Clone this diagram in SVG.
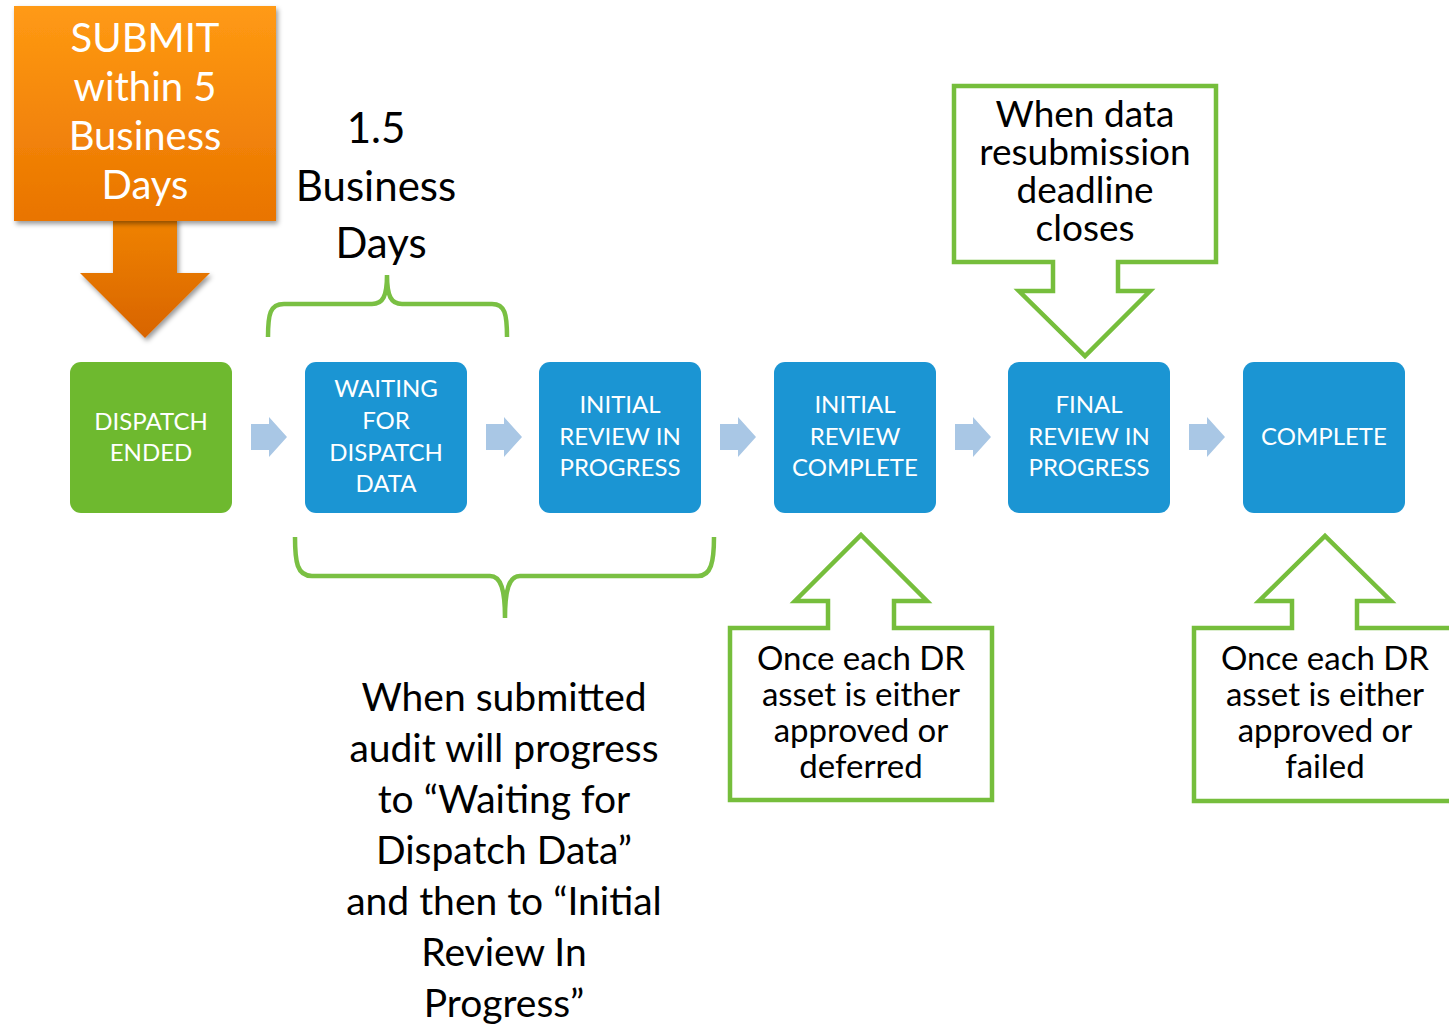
<svg xmlns="http://www.w3.org/2000/svg" width="1449" height="1026" viewBox="0 0 1449 1026">
<defs>
<linearGradient id="og" x1="0" y1="0" x2="0" y2="1">
<stop offset="0" stop-color="#FF9A14"/>
<stop offset="1" stop-color="#E97400"/>
</linearGradient>
<linearGradient id="og2" x1="0" y1="0" x2="0" y2="1">
<stop offset="0" stop-color="#F08300"/>
<stop offset="1" stop-color="#D86400"/>
</linearGradient>
<filter id="sh" x="-10%" y="-10%" width="130%" height="130%">
<feDropShadow dx="2" dy="3" stdDeviation="2.5" flood-color="#000" flood-opacity="0.4"/>
</filter>
<path id="sa" d="M0,-13 L18,-13 L18,-20 L36,0 L18,20 L18,13 L0,13 Z"/>
</defs>
<style>
.node{stroke:none}
.blue{fill:#1B95D3}
.green{fill:#6EB92F}
.nt{font-family:Lato,"Liberation Sans",sans-serif;font-size:24px;fill:#fff;text-anchor:middle}
.ot{font-family:Lato,"Liberation Sans",sans-serif;font-size:40px;fill:#fff;text-anchor:middle}
.bt{font-family:Lato,"Liberation Sans",sans-serif;fill:#000;text-anchor:middle}
.co{fill:#fff;stroke:#76BE3C;stroke-width:4.5;stroke-linejoin:miter}
.br{fill:none;stroke:#7AC043;stroke-width:4.5;stroke-linecap:butt}
.sa{fill:#A9C7E5}
</style>

<g id="submit">
<path d="M113,218 L177,218 L177,273 L210,273 L145,338 L80,273 L113,273 Z" fill="url(#og2)" filter="url(#sh)"/>
<rect x="14" y="6" width="262" height="215" fill="url(#og)" filter="url(#sh)"/>
<text class="ot" x="145" y="52">SUBMIT</text>
<text class="ot" x="145" y="101">within 5</text>
<text class="ot" x="145" y="150">Business</text>
<text class="ot" x="145" y="199">Days</text>
</g>

<g id="days-label">
<text class="bt" font-size="42" x="376" y="143">1.5</text>
<text class="bt" font-size="42" x="376" y="201">Business</text>
<text class="bt" font-size="42" x="381" y="258">Days</text>
<path class="br" d="M268,337 C268,314 270,304 284,304 L372,304 C383,304 387,296 387,275 C387,296 391,304 402,304 L492,304 C505,304 507,314 507,337"/>
</g>

<g id="connectors">
<use href="#sa" class="sa" x="251" y="437"/>
<use href="#sa" class="sa" x="486" y="437"/>
<use href="#sa" class="sa" x="720" y="437"/>
<use href="#sa" class="sa" x="955" y="437"/>
<use href="#sa" class="sa" x="1189" y="437"/>
</g>

<g id="n-dispatch-ended">
<rect class="node green" x="70" y="362" width="162" height="151" rx="11"/>
<text class="nt" x="151" y="430">DISPATCH</text>
<text class="nt" x="151" y="461">ENDED</text>
</g>
<g id="n-waiting">
<rect class="node blue" x="305" y="362" width="162" height="151" rx="11"/>
<text class="nt" x="386" y="397">WAITING</text>
<text class="nt" x="386" y="429">FOR</text>
<text class="nt" x="386" y="461">DISPATCH</text>
<text class="nt" x="386" y="492">DATA</text>
</g>
<g id="n-initial-progress">
<rect class="node blue" x="539" y="362" width="162" height="151" rx="11"/>
<text class="nt" x="620" y="413">INITIAL</text>
<text class="nt" x="620" y="445">REVIEW IN</text>
<text class="nt" x="620" y="476">PROGRESS</text>
</g>
<g id="n-initial-complete">
<rect class="node blue" x="774" y="362" width="162" height="151" rx="11"/>
<text class="nt" x="855" y="413">INITIAL</text>
<text class="nt" x="855" y="445">REVIEW</text>
<text class="nt" x="855" y="476">COMPLETE</text>
</g>
<g id="n-final-progress">
<rect class="node blue" x="1008" y="362" width="162" height="151" rx="11"/>
<text class="nt" x="1089" y="413">FINAL</text>
<text class="nt" x="1089" y="445">REVIEW IN</text>
<text class="nt" x="1089" y="476">PROGRESS</text>
</g>
<g id="n-complete">
<rect class="node blue" x="1243" y="362" width="162" height="151" rx="11"/>
<text class="nt" x="1324" y="445">COMPLETE</text>
</g>

<g id="c-deadline">
<path class="co" d="M954,86 L1216,86 L1216,262 L1118,262 L1118,291 L1150,291 L1085,356 L1019,291 L1053,291 L1053,262 L954,262 Z"/>
<text class="bt" font-size="37" x="1085" y="127">When data</text>
<text class="bt" font-size="37" x="1085" y="165">resubmission</text>
<text class="bt" font-size="37" x="1085" y="203">deadline</text>
<text class="bt" font-size="37" x="1085" y="241">closes</text>
</g>

<g id="brace-bottom">
<path class="br" d="M295,537 C295,562 297,576 312,576 L490,576 C501,576 505,590 505,618 C505,590 509,576 520,576 L698,576 C711,576 714,562 714,537"/>
<text class="bt" font-size="39" x="504" y="711">When submitted</text>
<text class="bt" font-size="39" x="504" y="762">audit will progress</text>
<text class="bt" font-size="39" x="504" y="813">to “Waiting for</text>
<text class="bt" font-size="39" x="504" y="864">Dispatch Data”</text>
<text class="bt" font-size="39" x="504" y="915">and then to “Initial</text>
<text class="bt" font-size="39" x="504" y="966">Review In</text>
<text class="bt" font-size="39" x="504" y="1017">Progress”</text>
</g>

<g id="c-deferred">
<path class="co" d="M730,628 L828,628 L828,601 L795,601 L861,535 L927,601 L894,601 L894,628 L992,628 L992,800 L730,800 Z"/>
<text class="bt" font-size="33" x="861" y="670">Once each DR</text>
<text class="bt" font-size="33" x="861" y="706">asset is either</text>
<text class="bt" font-size="33" x="861" y="742">approved or</text>
<text class="bt" font-size="33" x="861" y="778">deferred</text>
</g>

<g id="c-failed">
<path class="co" d="M1194,628 L1292,628 L1292,601 L1259,601 L1325,536 L1391,601 L1357,601 L1357,628 L1460,628 L1460,801 L1194,801 Z"/>
<text class="bt" font-size="33" x="1325" y="670">Once each DR</text>
<text class="bt" font-size="33" x="1325" y="706">asset is either</text>
<text class="bt" font-size="33" x="1325" y="742">approved or</text>
<text class="bt" font-size="33" x="1325" y="778">failed</text>
</g>
</svg>
